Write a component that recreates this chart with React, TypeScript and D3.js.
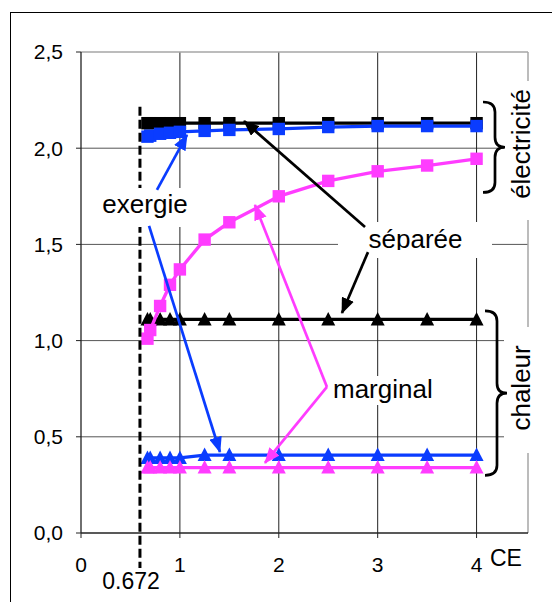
// @ts-nocheck
import * as d3 from "d3"
import * as React from "react"

// CE values (shared by every series)
const ceValues = [0.672, 0.7, 0.8, 0.9, 1.0, 1.25, 1.5, 2, 2.5, 3, 3.5, 4]

// électricité
const elecSeparee = [2.13, 2.13, 2.13, 2.13, 2.13, 2.13, 2.13, 2.13, 2.13, 2.13, 2.13, 2.13]
const elecExergie = [2.06, 2.065, 2.075, 2.08, 2.085, 2.09, 2.095, 2.1, 2.11, 2.115, 2.115, 2.115]
const elecMarginal = [1.01, 1.055, 1.18, 1.29, 1.37, 1.525, 1.615, 1.75, 1.83, 1.88, 1.91, 1.945]

// chaleur
const chalSeparee = [1.11, 1.11, 1.11, 1.11, 1.11, 1.11, 1.11, 1.11, 1.11, 1.11, 1.11, 1.11]
const chalExergie = [0.39, 0.39, 0.39, 0.39, 0.39, 0.405, 0.405, 0.405, 0.405, 0.405, 0.405, 0.405]
const chalMarginal = [0.34, 0.34, 0.34, 0.34, 0.34, 0.34, 0.34, 0.34, 0.34, 0.34, 0.34, 0.34]

const xTicks = [0, 1, 2, 3, 4]
const yTicks = [0, 0.5, 1, 1.5, 2, 2.5]
const yTickLabels = ["0,0", "0,5", "1,0", "1,5", "2,0", "2,5"]
const cutoff = 0.672

const BLACK = "#000000"
const BLUE = "#0a3cff"
const PINK = "#ff3cff"
const FONT = "Arial, 'Liberation Sans', sans-serif"

const series = [
  { values: elecSeparee, color: BLACK, shape: "square" },
  { values: chalSeparee, color: BLACK, shape: "triangle" },
  { values: elecExergie, color: BLUE, shape: "square" },
  { values: chalExergie, color: BLUE, shape: "triangle" },
  { values: elecMarginal, color: PINK, shape: "square" },
  { values: chalMarginal, color: PINK, shape: "triangle" },
]

// annotation arrows, in data units
const arrows = [
  { from: [0.768, 1.783], to: [1.072, 2.069], color: BLUE },
  { from: [0.688, 1.596], to: [1.405, 0.421], color: BLUE },
  { from: [2.872, 1.59], to: [1.648, 2.141], color: BLACK },
  { from: [2.902, 1.46], to: [2.639, 1.143], color: BLACK },
  { from: [2.487, 0.759], to: [1.759, 1.705], color: PINK },
  { from: [2.487, 0.759], to: [1.86, 0.364], color: PINK },
]

export default function App() {
  const x = d3.scaleLinear().domain([0, 4.52]).range([81, 528])
  const y = d3.scaleLinear().domain([0, 2.5]).range([533, 52])
  const [x0, x1] = x.range()
  const [yb, yt] = y.range()

  const line = d3.line().x((d, i) => x(ceValues[i])).y(d => y(d))

  const brace = (yTop, yBot, left) => {
    const t = y(yTop), b = y(yBot), m = (t + b) / 2
    const xm = left + 12, tip = left + 22, r = 10
    return `M${left},${t} Q${xm},${t} ${xm},${t + r} L${xm},${m - r} Q${xm},${m} ${tip},${m} ` +
      `Q${xm},${m} ${xm},${m + r} L${xm},${b - r} Q${xm},${b} ${left},${b}`
  }

  const dashX = x(cutoff) - 7.5
  const arrowId = c => (c === BLUE ? "b" : c === PINK ? "p" : "k")

  return (
    <svg width={552} height={602} style={{ position: "absolute", left: 0, top: 0, background: "#fff" }}
      fontFamily={FONT}>
      <defs>
        {[["k", BLACK], ["b", BLUE], ["p", PINK]].map(([id, c]) => (
          <marker key={id} id={"ah-" + id} markerUnits="userSpaceOnUse" markerWidth={17} markerHeight={13}
            refX={15} refY={6.5} orient="auto">
            <path d="M0,0 L16,6.5 L0,13 Z" fill={c} />
          </marker>
        ))}
        <clipPath id="sep-clip">
          <rect x={330} y={215} width={170} height={35} />
        </clipPath>
      </defs>

      {/* outer frame */}
      <rect x={10.5} y={12.5} width={560} height={600} fill="none" stroke="#000" strokeWidth={1} />

      {/* grid */}
      {yTicks.slice(1, -1).map(t => (
        <line key={"gy" + t} x1={x0} x2={x1} y1={y(t)} y2={y(t)} stroke="#555" strokeWidth={1} />
      ))}
      {xTicks.slice(1).map(t => (
        <line key={"gx" + t} x1={x(t)} x2={x(t)} y1={yt} y2={yb} stroke="#222" strokeWidth={1} />
      ))}
      <line x1={x0} x2={x1} y1={yt} y2={yt} stroke="#a6a6a6" strokeWidth={1.5} />
      <line x1={x1} x2={x1} y1={yt} y2={yb} stroke="#a6a6a6" strokeWidth={1.5} />

      {/* axes */}
      <line x1={x0} x2={x0} y1={yt} y2={yb} stroke="#222" strokeWidth={1.3} />
      <line x1={x0} x2={x1} y1={yb} y2={yb} stroke="#222" strokeWidth={1.3} />
      {yTicks.map((t, i) => (
        <g key={"ty" + t}>
          <line x1={x0 - 5} x2={x0} y1={y(t)} y2={y(t)} stroke="#222" />
          <text x={63} y={y(t)} dy="0.35em" textAnchor="end" fontSize={21}>{yTickLabels[i]}</text>
        </g>
      ))}
      {xTicks.map(t => (
        <g key={"tx" + t}>
          <line x1={x(t)} x2={x(t)} y1={yb} y2={yb + 5} stroke="#222" />
          <text x={x(t)} y={572} textAnchor="middle" fontSize={21}>{t}</text>
        </g>
      ))}
      <text x={490} y={566} fontSize={23}>CE</text>

      {/* series */}
      {series.map((s, si) => (
        <g key={"s" + si}>
          <path d={line(s.values)} fill="none" stroke={s.color} strokeWidth={3.3} />
          {s.values.map((v, i) => s.shape === "square" ? (
            <rect key={i} x={x(ceValues[i]) - 6.2} y={y(v) - 6.2} width={12.4} height={12.4} fill={s.color} />
          ) : (
            <path key={i} transform={`translate(${x(ceValues[i])},${y(v)})`}
              d="M0,-7.5 L7,6 L-7,6 Z" fill={s.color} />
          ))}
        </g>
      ))}

      {/* cutoff */}
      <line x1={dashX} x2={dashX} y1={y(2.215)} y2={568} stroke="#000" strokeWidth={3}
        strokeDasharray="9 4" />
      <text x={131} y={589} textAnchor="middle" fontSize={23}>0.672</text>

      {/* label boxes */}
      <rect x={95} y={188} width={100} height={39} fill="#fff" />
      <rect x={338} y={222} width={154} height={36} fill="#fff" />
      <rect x={330} y={376} width={110} height={29} fill="#fff" />
      <rect x={504} y={81} width={36} height={139} fill="#fff" />
      <rect x={504} y={327} width={36} height={126} fill="#fff" />

      <text x={145} y={213} textAnchor="middle" fontSize={26}>exergie</text>
      <text x={415.5} y={248} textAnchor="middle" fontSize={26} clipPath="url(#sep-clip)">séparée</text>
      <text x={333} y={398} fontSize={26}>marginal</text>
      <text transform={`translate(521,${y(2.022)}) rotate(-90)`} textAnchor="middle" dy="0.35em"
        fontSize={26}>électricité</text>
      <text transform={`translate(521,${y(0.754)}) rotate(-90)`} textAnchor="middle" dy="0.35em"
        fontSize={26}>chaleur</text>

      {/* arrows */}
      {arrows.map((a, i) => (
        <line key={"a" + i} x1={x(a.from[0])} y1={y(a.from[1])} x2={x(a.to[0])} y2={y(a.to[1])}
          stroke={a.color} strokeWidth={2.7} markerEnd={`url(#ah-${arrowId(a.color)})`} />
      ))}

      {/* braces */}
      <path d={brace(2.24, 1.77, 483)} fill="none" stroke="#000" strokeWidth={2.7} />
      <path d={brace(1.154, 0.3, 485)} fill="none" stroke="#000" strokeWidth={2.7} />
    </svg>
  )
}
